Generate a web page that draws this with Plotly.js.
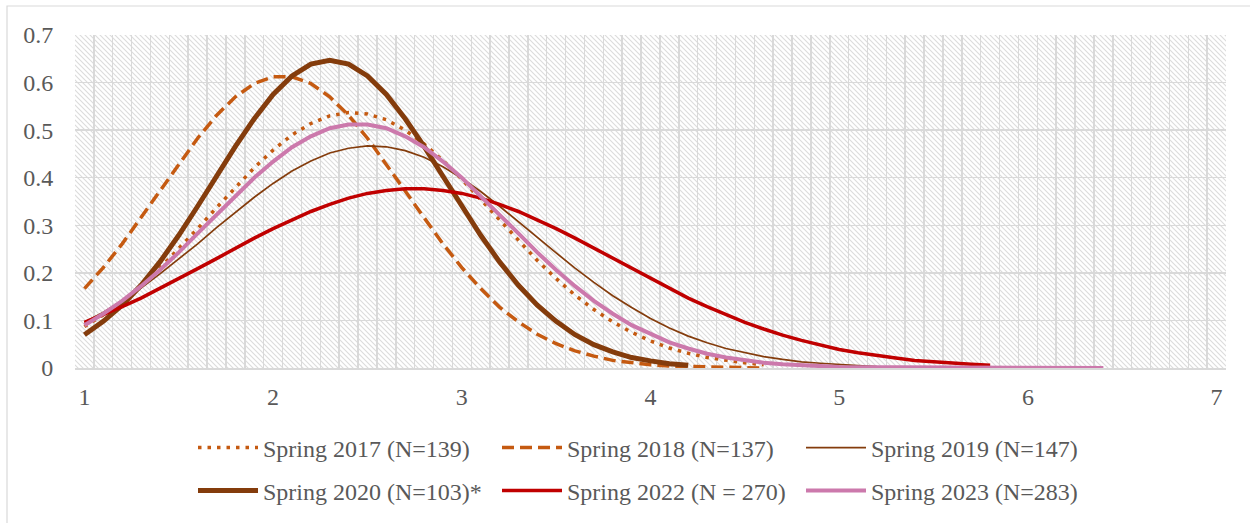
<!DOCTYPE html>
<html>
<head>
<meta charset="utf-8">
<script src="https://cdn.plot.ly/plotly-3.0.1.min.js"></script>
<style>
  html, body { margin: 0; padding: 0; background: #ffffff; }
  #chart { width: 1250px; height: 523px; }
</style>
</head>
<body>
<div id="chart"></div>
<script>
// x categories (score values, step 0.1)
const xs = [1.0,1.1,1.2,1.3,1.4,1.5,1.6,1.7,1.8,1.9,
            2.0,2.1,2.2,2.3,2.4,2.5,2.6,2.7,2.8,2.9,
            3.0,3.1,3.2,3.3,3.4,3.5,3.6,3.7,3.8,3.9,
            4.0,4.1,4.2,4.3,4.4,4.5,4.6,4.7,4.8,4.9,
            5.0,5.1,5.2,5.3,5.4,5.5,5.6,5.7,5.8,5.9,
            6.0,6.1,6.2,6.3,6.4];

const seriesNames = ["Spring 2017 (N=139)", "Spring 2018 (N=137)", "Spring 2019 (N=147)",
                     "Spring 2020 (N=103)*", "Spring 2022 (N = 270)", "Spring 2023 (N=283)"];

const spring2017 = [0.087,0.112,0.140,0.173,0.210,0.251,0.293,0.337,0.380,0.421,
                    0.458,0.490,0.514,0.530,0.537,0.534,0.522,0.500,0.471,0.436,
                    0.397,0.354,0.310,0.267,0.226,0.188,0.153,0.123,0.097,0.075,
                    0.057,0.042,0.031,0.022,0.016,0.011,0.007];

const spring2018 = [0.167,0.211,0.261,0.316,0.372,0.429,0.483,0.531,0.570,0.598,
                    0.612,0.612,0.598,0.570,0.531,0.483,0.429,0.372,0.316,0.261,
                    0.211,0.167,0.128,0.097,0.071,0.051,0.036,0.025,0.016,0.011,
                    0.007,0.004,0.003,0.002,0.001,0.001,0.000];

const spring2019 = [0.096,0.117,0.141,0.168,0.198,0.229,0.261,0.295,0.327,0.359,
                    0.388,0.414,0.435,0.452,0.462,0.467,0.465,0.457,0.443,0.423,
                    0.399,0.371,0.340,0.308,0.275,0.242,0.210,0.180,0.152,0.127,
                    0.104,0.084,0.067,0.053,0.041,0.032,0.024,0.018,0.013,0.010,
                    0.007,0.005,0.003,0.002,0.002];

const spring2020 = [0.070,0.098,0.132,0.174,0.223,0.279,0.340,0.403,0.466,0.524,
                    0.575,0.614,0.639,0.647,0.639,0.614,0.575,0.524,0.466,0.403,
                    0.340,0.279,0.223,0.174,0.132,0.098,0.070,0.049,0.034,0.022,
                    0.015,0.009,0.006];

const spring2022 = [0.096,0.112,0.129,0.147,0.167,0.188,0.209,0.230,0.252,0.273,
                    0.293,0.312,0.329,0.344,0.357,0.367,0.373,0.377,0.377,0.373,
                    0.367,0.357,0.344,0.329,0.312,0.293,0.273,0.252,0.230,0.209,
                    0.188,0.167,0.147,0.129,0.112,0.096,0.082,0.069,0.058,0.048,
                    0.039,0.032,0.026,0.021,0.016,0.013,0.010,0.008,0.006];

const spring2023 = [0.090,0.114,0.141,0.172,0.206,0.243,0.283,0.322,0.362,0.400,
                    0.434,0.464,0.487,0.504,0.512,0.512,0.504,0.487,0.464,0.434,
                    0.400,0.362,0.322,0.283,0.243,0.206,0.172,0.141,0.114,0.090,
                    0.071,0.054,0.041,0.030,0.022,0.016,0.011,0.008,0.005,0.004,
                    0.002,0.002,0.001,0.001,0.000,0.000,0.000,0.000,0.000,0.000,
                    0.000,0.000,0.000,0.000,0.000];

const allSeries = [spring2017, spring2018, spring2019, spring2020, spring2022, spring2023];
const lineStyles = [
  {color: '#C55A11', width: 3.5, dash: '3.5px,6px'},
  {color: '#C55A11', width: 3.5, dash: '12px,6px'},
  {color: '#843C0C', width: 1.7, dash: 'solid'},
  {color: '#843C0C', width: 5,   dash: 'solid'},
  {color: '#C00000', width: 3.5, dash: 'solid'},
  {color: '#CC79AC', width: 4,   dash: 'solid'}
];
const legendIds = ['legend', 'legend2', 'legend3', 'legend4', 'legend5', 'legend6'];

const traces = allSeries.map((vals, i) => ({
  type: 'scatter',
  mode: 'lines',
  name: seriesNames[i],
  x: xs.slice(0, vals.length),
  y: vals,
  line: lineStyles[i],
  legend: legendIds[i],
  hoverinfo: 'x+y+name'
}));

// plot-area geometry
const W = 1250, H = 523;
const M = {l: 75, r: 24, t: 35, b: 155, autoexpand: false};
const PW = W - M.l - M.r, PH = H - M.t - M.b;

// hatched background (diagonal lines) as an svg image
const hatchSvg =
  '<svg xmlns="http://www.w3.org/2000/svg" width="' + PW + '" height="' + PH + '">' +
  '<defs><pattern id="p" width="5" height="5" patternUnits="userSpaceOnUse">' +
  '<rect width="5" height="5" fill="#ffffff"/>' +
  '<path d="M-1,-1 L6,6 M-1,4 L1,6 M4,-1 L6,1" stroke="#dcdcdc" stroke-width="1.1"/>' +
  '</pattern></defs><rect width="100%" height="100%" fill="url(#p)"/></svg>';
const hatchUri = 'data:image/svg+xml;charset=utf-8,' + encodeURIComponent(hatchSvg);

const fontFamily = '"Liberation Serif", "Times New Roman", serif';
const tickFont = {family: fontFamily, size: 24, color: '#595959'};
const legendFont = {family: fontFamily, size: 24, color: '#595959'};
const gridColor = '#d9d9d9';

function px2paperX(p) { return (p - M.l) / PW; }
function px2paperY(p) { return (H - M.b - p) / PH; }

const layout = {
  width: W, height: H,
  margin: M,
  paper_bgcolor: '#ffffff',
  plot_bgcolor: 'rgba(0,0,0,0)',
  showlegend: true,
  xaxis: {
    range: [0.95, 7.05],
    tickmode: 'array',
    tickvals: [1, 2, 3, 4, 5, 6, 7],
    ticktext: ['1', '2', '3', '4', '5', '6', '7'],
    ticks: 'outside', ticklen: 7, tickcolor: 'rgba(0,0,0,0)',
    showgrid: false,
    zeroline: false,
    showline: true, linecolor: gridColor, linewidth: 1.5,
    minor: {tick0: 0.95, dtick: 0.1, showgrid: true, gridcolor: gridColor, gridwidth: 1.5, ticks: ''},
    tickfont: tickFont,
    fixedrange: true
  },
  yaxis: {
    range: [0, 0.7],
    dtick: 0.1, tick0: 0,
    ticks: 'outside', ticklen: 16, tickcolor: 'rgba(0,0,0,0)',
    showgrid: true, gridcolor: gridColor, gridwidth: 1.5,
    zeroline: false,
    showline: false,
    tickfont: tickFont,
    fixedrange: true
  },
  images: [{
    source: hatchUri,
    xref: 'paper', yref: 'paper',
    x: 0, y: 1, sizex: 1, sizey: 1,
    xanchor: 'left', yanchor: 'top',
    sizing: 'stretch', layer: 'below'
  }],
  shapes: [{
    type: 'rect', xref: 'paper', yref: 'paper',
    x0: px2paperX(7), x1: px2paperX(1262),
    y0: px2paperY(540), y1: px2paperY(6),
    line: {color: '#d9d9d9', width: 1.2},
    fillcolor: 'rgba(0,0,0,0)',
    layer: 'below'
  }]
};

// one single-entry legend per series, laid out in 3 columns x 2 rows
const colX = [193, 497, 801];
const rowY = [448, 491];
legendIds.forEach((id, i) => {
  layout[id] = {
    orientation: 'v',
    x: px2paperX(colX[i % 3]), xanchor: 'left',
    y: px2paperY(rowY[Math.floor(i / 3)]), yanchor: 'middle',
    itemwidth: 60,
    font: legendFont,
    bgcolor: 'rgba(0,0,0,0)', borderwidth: 0
  };
});

Plotly.newPlot('chart', traces, layout, {displayModeBar: false, staticPlot: true});
</script>
</body>
</html>
